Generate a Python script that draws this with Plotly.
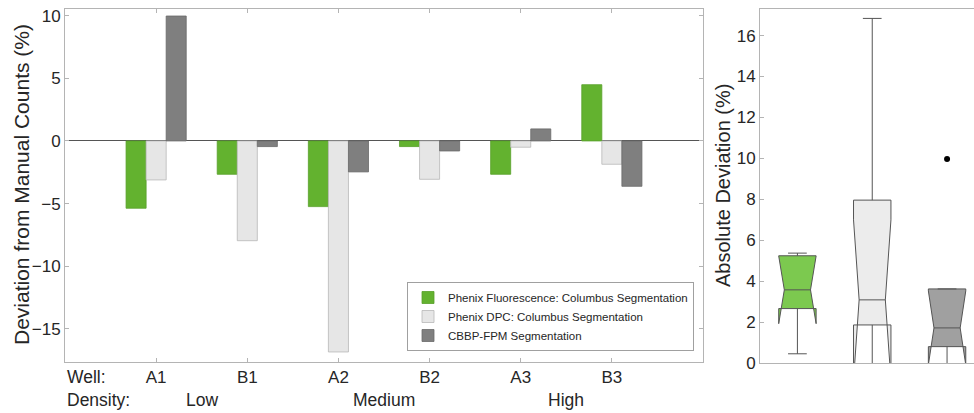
import numpy as np
import plotly.graph_objects as go

wells = ["A1", "B1", "A2", "B2", "A3", "B3"]
density_labels = ["Low", "Medium", "High"]
density_pos = [0.5, 2.5, 4.5]

series_names = ["Phenix Fluorescence: Columbus Segmentation",
                "Phenix DPC: Columbus Segmentation",
                "CBBP-FPM Segmentation"]
fluor = [-5.37, -2.66, -5.24, -0.45, -2.66, 4.49]
dpc = [-3.11, -7.96, -16.84, -3.06, -0.50, -1.86]
fpm = [9.97, -0.45, -2.47, -0.80, 0.96, -3.62]

bar_colors = ["#63b22f", "#e6e6e6", "#7f7f7f"]
bar_lines = ["#58a02a", "#b8b8b8", "#6a6a6a"]
box_colors = ["#7cc94f", "#ececec", "#a0a0a0"]

FONT = "Liberation Sans, Arial, sans-serif"
TXT = "#262626"


def prctile(v, p):
    s = np.sort(np.asarray(v, float))
    n = len(s)
    pos = np.array([(i + 0.5) / n for i in range(n)])
    return float(np.interp(p / 100.0, pos, s))


def box_stats(v):
    a = np.abs(np.asarray(v, float))
    q1, med, q3 = prctile(a, 25), prctile(a, 50), prctile(a, 75)
    iqr = q3 - q1
    hi_lim, lo_lim = q3 + 1.5 * iqr, q1 - 1.5 * iqr
    inside = a[(a <= hi_lim) & (a >= lo_lim)]
    out = a[(a > hi_lim) | (a < lo_lim)]
    notch = 1.57 * iqr / np.sqrt(len(a))
    return dict(q1=q1, median=med, q3=q3, lower=float(inside.min()),
                upper=float(inside.max()), notch=float(notch), out=list(out))


fig = go.Figure()
for name, vals, c, lc in zip(series_names, [fluor, dpc, fpm], bar_colors, bar_lines):
    fig.add_trace(go.Bar(x=wells, y=vals, name=name,
                         marker=dict(color=c, line=dict(color=lc, width=0.8)),
                         xaxis="x", yaxis="y"))

for i, (vals, c) in enumerate(zip([fluor, dpc, fpm], box_colors)):
    st = box_stats(vals)
    fig.add_trace(go.Box(x=[i + 1], q1=[st["q1"]], median=[st["median"]], q3=[st["q3"]],
                         lowerfence=[st["lower"]], upperfence=[st["upper"]],
                         notchspan=[st["notch"]], notched=True, notchwidth=0.15,
                         width=0.5, whiskerwidth=0.5, fillcolor=c,
                         line=dict(color="#555555", width=1), boxpoints=False,
                         showlegend=False, xaxis="x2", yaxis="y2"))
    if st["out"]:
        fig.add_trace(go.Scatter(x=[i + 1] * len(st["out"]), y=st["out"], mode="markers",
                                 marker=dict(color="black", size=6), showlegend=False,
                                 xaxis="x2", yaxis="y2"))

W, H = 974, 413
ml, mt, mb = 65, 9, 50
pw, ph = W - ml, H - mt - mb


def px_x(p):
    return (p - ml) / pw


def px_y(p):
    return (H - mb - p) / ph


axis_common = dict(showline=True, linecolor="#b4b4b4", linewidth=1, showgrid=False,
                   tickfont=dict(family=FONT, size=17, color=TXT))

fig.update_layout(
    width=W, height=H, margin=dict(l=ml, r=0, t=mt, b=mb),
    paper_bgcolor="white", plot_bgcolor="white",
    barmode="group", bargap=0.34, bargroupgap=0,
    font=dict(family=FONT, color=TXT),
    xaxis=dict(domain=[0, px_x(703)], range=[-1, 6], mirror="ticks", ticks="inside",
               ticklen=4, tickcolor="#b4b4b4", **axis_common),
    yaxis=dict(domain=[px_y(362), 1], range=[-17.64, 10.53], mirror="ticks",
               ticks="inside", ticklen=4, tickcolor="#b4b4b4",
               tickvals=[-15, -10, -5, 0, 5, 10], zeroline=True,
               zerolinecolor="#555555", zerolinewidth=1, **axis_common),
    xaxis2=dict(domain=[px_x(760), 1], range=[0.5, 3.36], anchor="y2", mirror=True,
                showticklabels=False, ticks="", **axis_common),
    yaxis2=dict(domain=[0, 1], range=[0, 17.3], anchor="x2", ticks="inside", ticklen=4,
                tickcolor="#b4b4b4", tickvals=list(range(0, 17, 2)), zeroline=False,
                **axis_common),
    legend=dict(x=px_x(694), y=px_y(351), xanchor="right", yanchor="bottom",
                bgcolor="white", bordercolor="#a0a0a0", borderwidth=1,
                font=dict(family=FONT, size=11.5, color=TXT), itemwidth=30,
                tracegroupgap=0),
)

ann = [dict(text="Well:", x=0, xref="paper", xanchor="left", y=px_y(377)),
       dict(text="Density:", x=0, xref="paper", xanchor="left", y=px_y(400))]
for lab, pos in zip(density_labels, density_pos):
    ann.append(dict(text=lab, x=pos, xref="x", xanchor="center", y=px_y(400)))
for a in ann:
    a.update(yref="paper", yanchor="middle", showarrow=False,
             font=dict(family=FONT, size=17.5, color=TXT))
# axis titles
ann.append(dict(text="Deviation from Manual Counts (%)", textangle=-90,
                x=px_x(21), xref="paper", xanchor="center",
                y=px_y(185), yref="paper", yanchor="middle", showarrow=False,
                font=dict(family=FONT, size=21, color=TXT)))
ann.append(dict(text="Absolute Deviation (%)", textangle=-90,
                x=px_x(723), xref="paper", xanchor="center",
                y=px_y(186), yref="paper", yanchor="middle", showarrow=False,
                font=dict(family=FONT, size=20, color=TXT)))
fig.update_layout(annotations=ann)

fig.write_html("out.html")
